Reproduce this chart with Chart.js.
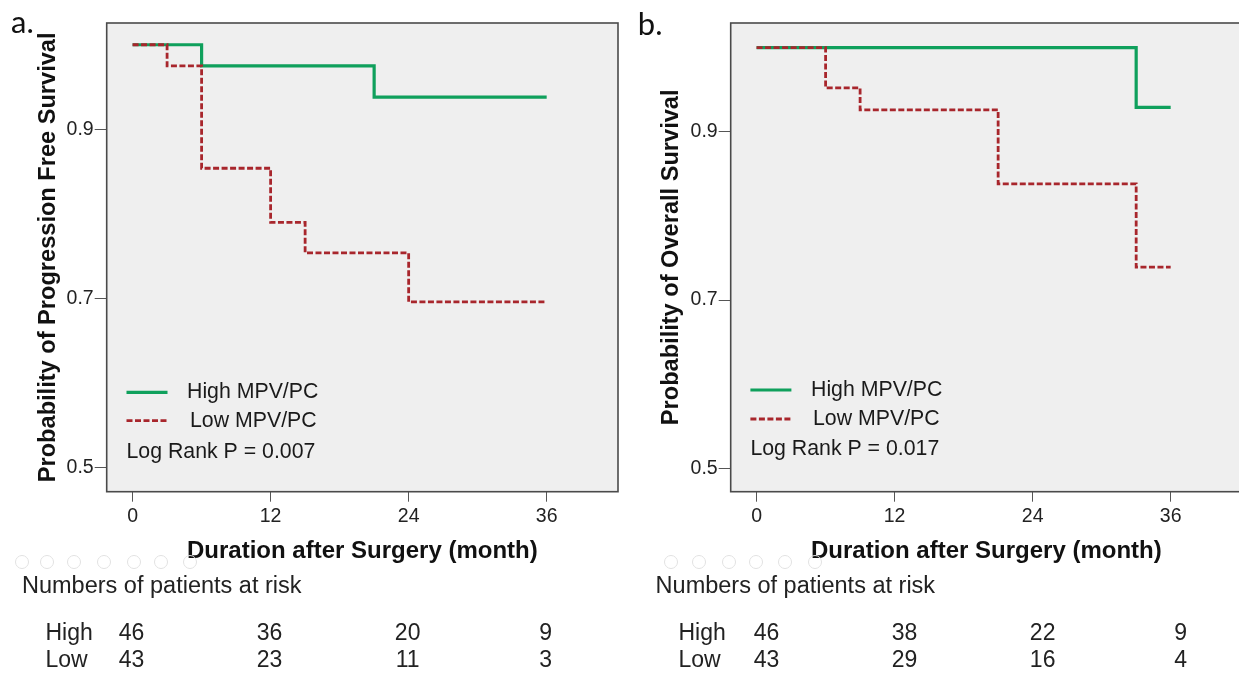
<!DOCTYPE html>
<html>
<head>
<meta charset="utf-8">
<script src="https://cdn.jsdelivr.net/npm/chart.js@4.4.0/dist/chart.umd.min.js"></script>
<style>
  html, body { margin: 0; padding: 0; background: #fff; overflow: hidden; }
  body { width: 1239px; height: 673px; position: relative; }
  canvas { position: absolute; top: 0; }
  #canvasA { left: 0; }
  #canvasB { left: 620px; }
  .icon { position: absolute; width: 12px; height: 12px; border: 1px solid #e2e2e2; border-radius: 50%; top: 555px; }
</style>
</head>
<body>
<canvas id="canvasA" width="620" height="673"></canvas>
<canvas id="canvasB" width="624" height="673"></canvas>
<script>
// x axis (months) and tick labels
const monthTicks = [0, 12, 24, 36];
const survTicks = [0.5, 0.7, 0.9];
const groupNames = ["High MPV/PC", "Low MPV/PC"];
const riskRowNames = ["High", "Low"];

// a. progression free survival
const pfsHighTime = [0, 6, 21, 36];
const pfsHighSurv = [1.0, 0.975, 0.938, 0.938];
const pfsLowTime = [0, 3, 6, 12, 15, 24, 36];
const pfsLowSurv = [1.0, 0.975, 0.854, 0.790, 0.754, 0.696, 0.696];
const pfsRiskHigh = [46, 36, 20, 9];
const pfsRiskLow = [43, 23, 11, 3];

// b. overall survival
const osHighTime = [0, 33, 36];
const osHighSurv = [1.0, 0.929, 0.929];
const osLowTime = [0, 6, 9, 21, 33, 36];
const osLowSurv = [1.0, 0.952, 0.926, 0.838, 0.739, 0.739];
const osRiskHigh = [46, 38, 22, 9];
const osRiskLow = [43, 29, 16, 4];

const GREEN = "#0fa05c";
const RED = "#a8262c";
const FONT = "'Liberation Sans', Arial, sans-serif";

// toolbar ghost icons (screenshot leftovers)
[22, 47, 74, 104, 134, 161, 190, 671, 699, 729, 756, 785, 815].forEach((x) => {
  const d = document.createElement("div");
  d.className = "icon";
  d.style.left = (x - 7) + "px";
  document.body.appendChild(d);
});

const kmDecor = {
  id: "kmDecor",
  beforeDraw(chart) {
    const { ctx, chartArea: a } = chart;
    ctx.save();
    ctx.fillStyle = "#efefef";
    ctx.fillRect(a.left, a.top, a.right - a.left, a.bottom - a.top);
    ctx.restore();
  },
  afterDraw(chart, args, opts) {
    const { ctx, chartArea: a } = chart;
    const xs = chart.scales.x;
    ctx.save();
    // box
    ctx.strokeStyle = "#4a4a4a";
    ctx.lineWidth = 1.6;
    ctx.strokeRect(a.left, a.top, a.right - a.left, a.bottom - a.top);

    // legend inside the plot
    const lg = opts.legend;
    ctx.textBaseline = "middle";
    ctx.textAlign = "left";
    ctx.font = "21.3px " + FONT;
    ctx.fillStyle = "#1a1a1a";
    chart.data.datasets.forEach((ds, i) => {
      const y = lg.y + i * lg.gap;
      ctx.save();
      ctx.strokeStyle = ds.borderColor;
      ctx.lineWidth = ds.borderWidth;
      ctx.setLineDash(ds.borderDash || []);
      ctx.beginPath();
      ctx.moveTo(lg.x, y);
      ctx.lineTo(lg.x + 41, y);
      ctx.stroke();
      ctx.restore();
      ctx.fillText(ds.label, lg.textX[i], y);
    });
    ctx.fillText("Log Rank P = " + opts.pValue, lg.x, lg.logY);

    // panel tag
    ctx.font = "31px Lato, sans-serif";
    ctx.textBaseline = "alphabetic";
    ctx.fillStyle = "#111";
    ctx.fillText(opts.tag, opts.tagX, opts.tagY);

    // numbers at risk
    ctx.font = "23.5px " + FONT;
    ctx.textBaseline = "middle";
    ctx.fillStyle = "#222";
    ctx.fillText("Numbers of patients at risk", opts.riskTitleX, 587);
    ctx.font = "23px " + FONT;
    [opts.riskHigh, opts.riskLow].forEach((row, r) => {
      const y = 633.8 + r * 27;
      ctx.textAlign = "left";
      ctx.fillText(riskRowNames[r], opts.rowLabelX, y);
      ctx.textAlign = "center";
      row.forEach((n, i) => {
        ctx.fillText(String(n), xs.getPixelForValue(monthTicks[i]) + opts.tableShift, y);
      });
    });
    ctx.restore();
  }
};

const toPoints = (t, s) => t.map((v, i) => ({ x: v, y: s[i] }));

function makePanel(canvasId, p) {
  return new Chart(document.getElementById(canvasId), {
    type: "line",
    data: {
      datasets: [
        {
          label: groupNames[0],
          data: toPoints(p.highT, p.highS),
          borderColor: GREEN,
          borderWidth: 3.2,
          stepped: "before",
          pointRadius: 0,
          fill: false,
          order: 2
        },
        {
          label: groupNames[1],
          data: toPoints(p.lowT, p.lowS),
          borderColor: RED,
          borderWidth: 2.8,
          borderDash: [6, 2.5],
          stepped: "before",
          pointRadius: 0,
          fill: false,
          order: 1
        }
      ]
    },
    options: {
      responsive: false,
      animation: false,
      layout: { padding: { top: 23, right: 2, left: 0, bottom: 0 } },
      plugins: {
        legend: { display: false },
        tooltip: { enabled: false },
        kmDecor: p.decor
      },
      scales: {
        x: {
          type: "linear",
          min: -2.25,
          max: 42.2,
          afterBuildTicks: (axis) => { axis.ticks = monthTicks.map((v) => ({ value: v })); },
          afterFit: (axis) => { axis.height = 181.3; },
          grid: { drawOnChartArea: false, tickLength: 10, color: "#555", lineWidth: 1 },
          border: { display: false },
          ticks: { padding: 3.3, color: "#222", font: { family: FONT, size: 19.5 } },
          title: {
            display: true,
            text: "Duration after Surgery (month)",
            color: "#111",
            font: { family: FONT, size: 24, weight: "bold" },
            padding: { top: 0, bottom: 107.6 }
          }
        },
        y: {
          min: p.yMin,
          max: p.yMax,
          afterBuildTicks: (axis) => { axis.ticks = survTicks.map((v) => ({ value: v })); },
          afterFit: (axis) => { axis.width = p.yAxisWidth; },
          grid: { drawOnChartArea: false, tickLength: 12, color: "#555", lineWidth: 1 },
          border: { display: false },
          ticks: { padding: 1, color: "#222", font: { family: FONT, size: 19.5 }, callback: (v) => v.toFixed(1) },
          title: {
            display: true,
            text: p.yTitle,
            color: "#111",
            font: { family: FONT, size: 23.6, weight: "bold" },
            padding: { top: p.yTitlePad, bottom: 0 }
          }
        }
      }
    },
    plugins: [kmDecor]
  });
}

makePanel("canvasA", {
  highT: pfsHighTime, highS: pfsHighSurv,
  lowT: pfsLowTime, lowS: pfsLowSurv,
  yMin: 0.4716, yMax: 1.0257,
  yAxisWidth: 106.7, yTitlePad: 34.2,
  yTitle: "Probability of Progression Free Survival",
  decor: {
    pValue: "0.007",
    legend: { x: 126.5, y: 392.3, gap: 28.4, textX: [187, 190], logY: 451.7 },
    tag: "a.", tagX: 11, tagY: 33,
    riskHigh: pfsRiskHigh, riskLow: pfsRiskLow,
    riskTitleX: 22, rowLabelX: 45.5, tableShift: -1
  }
});

makePanel("canvasB", {
  highT: osHighTime, highS: osHighSurv,
  lowT: osLowTime, lowS: osLowSurv,
  yMin: 0.4722, yMax: 1.0292,
  yAxisWidth: 110.7, yTitlePad: 37.2,
  yTitle: "Probability of Overall Survival",
  decor: {
    pValue: "0.017",
    legend: { x: 130.4, y: 390, gap: 29, textX: [191, 193], logY: 449 },
    tag: "b.", tagX: 17.8, tagY: 35,
    riskHigh: osRiskHigh, riskLow: osRiskLow,
    riskTitleX: 35.6, rowLabelX: 58.5, tableShift: 10
  }
});
</script>
</body>
</html>
